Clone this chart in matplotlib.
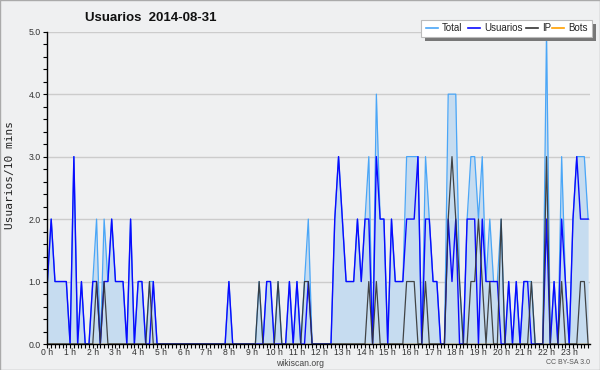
import numpy as np
import matplotlib
matplotlib.use("Agg")
import matplotlib.pyplot as plt
from matplotlib.lines import Line2D
from matplotlib.patches import Rectangle

# ---- data (10-minute intervals, 144 values, grouped 6 per hour) ----
total = [
    1, 2, 1, 1, 1, 1,   0, 3, 0, 1, 0, 0,   1, 2, 0, 2, 1, 2,   1, 1, 1, 0, 2, 0,
    1, 1, 0, 1, 1, 0,   0, 0, 0, 0, 0, 0,   0, 0, 0, 0, 0, 0,   0, 0, 0, 0, 0, 0,
    1, 0, 0, 0, 0, 0,   0, 0, 1, 0, 1, 1,   0, 1, 0, 0, 1, 0,   1, 0, 1, 2, 0, 0,
    0, 0, 0, 0, 2, 3,   2, 1, 1, 1, 2, 1,   2, 3, 0, 4, 2, 2,   0, 2, 1, 1, 1, 3,
    3, 3, 3, 0, 3, 2,   1, 1, 0, 0, 4, 4,   4, 1, 0, 2, 3, 3,   2, 3, 1, 2, 1, 1,
    2, 0, 1, 0, 1, 0,   1, 1, 1, 0, 0, 0,   5, 0, 1, 0, 3, 1,   0, 2, 3, 3, 3, 2,
]
usuarios = [
    1, 2, 1, 1, 1, 1,   0, 3, 0, 1, 0, 0,   1, 1, 0, 1, 1, 2,   1, 1, 1, 0, 2, 0,
    1, 1, 0, 0, 1, 0,   0, 0, 0, 0, 0, 0,   0, 0, 0, 0, 0, 0,   0, 0, 0, 0, 0, 0,
    1, 0, 0, 0, 0, 0,   0, 0, 0, 0, 1, 1,   0, 0, 0, 0, 1, 0,   1, 0, 0, 1, 0, 0,
    0, 0, 0, 0, 2, 3,   2, 1, 1, 1, 2, 1,   2, 2, 0, 3, 2, 2,   0, 2, 1, 1, 1, 2,
    2, 2, 3, 0, 2, 2,   1, 1, 0, 0, 2, 1,   2, 0, 0, 2, 2, 2,   0, 2, 1, 1, 1, 1,
    0, 0, 1, 0, 1, 0,   1, 1, 0, 0, 0, 0,   2, 0, 1, 0, 2, 1,   0, 2, 3, 2, 2, 2,
]
ip = [
    0, 0, 0, 0, 0, 0,   0, 0, 0, 0, 0, 0,   0, 1, 0, 1, 0, 0,   0, 0, 0, 0, 0, 0,
    0, 0, 0, 1, 0, 0,   0, 0, 0, 0, 0, 0,   0, 0, 0, 0, 0, 0,   0, 0, 0, 0, 0, 0,
    0, 0, 0, 0, 0, 0,   0, 0, 1, 0, 0, 0,   0, 1, 0, 0, 0, 0,   0, 0, 1, 1, 0, 0,
    0, 0, 0, 0, 0, 0,   0, 0, 0, 0, 0, 0,   0, 1, 0, 1, 0, 0,   0, 0, 0, 0, 0, 1,
    1, 1, 0, 0, 1, 0,   0, 0, 0, 0, 2, 3,   2, 1, 0, 0, 1, 1,   2, 1, 0, 1, 0, 0,
    2, 0, 0, 0, 0, 0,   0, 0, 1, 0, 0, 0,   3, 0, 0, 0, 1, 0,   0, 0, 0, 1, 1, 0,
]
bots = [0] * 144
hour_labels = [f"{h} h" for h in range(24)]
ytick_values = [0, 1, 2, 3, 4, 5]
ytick_labels = ["0.0", "1.0", "2.0", "3.0", "4.0", "5.0"]
series_names = ["Total", "Usuarios", "IP", "Bots"]

# ---- style ----
C_TOTAL = "#4aa6f7"
C_FILL = "#c6dcf0"
C_USERS = "#0a0aff"
C_IP = "#333333"
C_BOTS = "#ffa000"
BG = "#eff0f1"

W, H = 600, 370
fig = plt.figure(figsize=(6, 3.7), dpi=100, facecolor=BG)

def fx(x):
    return x / W

def fy(y):
    return 1 - y / H

ax = fig.add_axes([fx(46.5), fy(344), fx(590) - fx(46.5), fy(31.7) - fy(344)])
ax.set_facecolor(BG)

x = np.arange(len(total))
ax.fill_between(x, total, 0, color=C_FILL, lw=0, zorder=1)
ax.plot(x, bots, color=C_BOTS, lw=1.0, zorder=1.5)
ax.plot(x, total, color=C_TOTAL, lw=0.9, zorder=2)
ax.plot(x, usuarios, color=C_USERS, lw=1.0, zorder=2.1)
ax.plot(x, ip, color=C_IP, lw=0.9, alpha=0.9, zorder=2.2)

ax.set_xlim(-0.24, 143.5)
ax.set_ylim(0, 5)

for s in ["top", "right"]:
    ax.spines[s].set_visible(False)
for s in ["left", "bottom"]:
    ax.spines[s].set_color("black")
    ax.spines[s].set_linewidth(1.0)
    ax.spines[s].set_zorder(3)

ax.set_yticks(ytick_values)
ax.set_yticklabels(ytick_labels)
ax.set_yticks(np.arange(0, 5.01, 0.2), minor=True)
ax.set_xticks(np.arange(0, 144, 6))
ax.set_xticklabels(hour_labels)
ax.set_xticks(np.arange(0, 144, 1), minor=True)

ax.tick_params(axis="y", which="both", direction="out", length=2.6, width=0.8,
               colors="black", labelcolor="#333333", labelsize=6.3, pad=1.5)
ax.tick_params(axis="x", which="both", direction="out", length=2.9, width=0.8,
               colors="black", labelcolor="#333333", labelsize=6.2, pad=0.3)
for lab in ax.get_xticklabels() + ax.get_yticklabels():
    lab.set_fontfamily("Liberation Sans")

ax.grid(axis="y", which="major", color="#cccccc", lw=1.0, zorder=0.5)
ax.set_axisbelow(True)

# titles and labels
fig.text(fx(85), fy(18), "Usuarios  2014-08-31", fontsize=9.5, fontweight="bold",
         family="Liberation Sans", ha="left", va="center", color="#111111")
fig.text(fx(10), fy(175), "Usuarios/10 mins", rotation=90, fontsize=8,
         family="DejaVu Sans Mono", ha="center", va="center", color="#222222")
fig.text(fx(300), fy(363), "wikiscan.org", fontsize=6.2, family="Liberation Sans",
         ha="center", va="center", color="#444444")
fig.text(fx(590), fy(363), "CC BY-SA 3.0", fontsize=5.0, family="Liberation Sans",
         ha="right", va="center", color="#555555")

# legend (manual, mimicking the boxed legend with shadow)
fig.add_artist(Rectangle((fx(425), fy(40.5)), fx(596) - fx(425), fy(24) - fy(40.5),
                         transform=fig.transFigure, facecolor="#777777", edgecolor="none", zorder=5))
fig.add_artist(Rectangle((fx(421), fy(36.5)), fx(592) - fx(421), fy(20) - fy(36.5),
                         transform=fig.transFigure, facecolor="white", edgecolor="#bbbbbb",
                         lw=0.8, zorder=6))
leg_colors = [C_TOTAL, C_USERS, C_IP, C_BOTS]
leg_line_x = [426, 468, 526, 552]
leg_text_x = [442, 484, 542, 568]
for name, col, lx, tx in zip(series_names, leg_colors, leg_line_x, leg_text_x):
    fig.add_artist(Line2D([fx(lx), fx(lx + 12)], [fy(28), fy(28)], transform=fig.transFigure,
                          color=col, lw=1.2, zorder=7))
    fig.text(fx(tx), fy(28), name, fontsize=7.0, family="Liberation Sans",
             ha="left", va="center", color="#222222", zorder=7)

# outer frame
fig.add_artist(Rectangle((0.0008, 0.0013), 0.9984, 0.9974, transform=fig.transFigure,
                         facecolor="none", edgecolor="#aaaaaa", lw=1.0, zorder=10))

fig.savefig("out.png", dpi=100, facecolor=BG)
